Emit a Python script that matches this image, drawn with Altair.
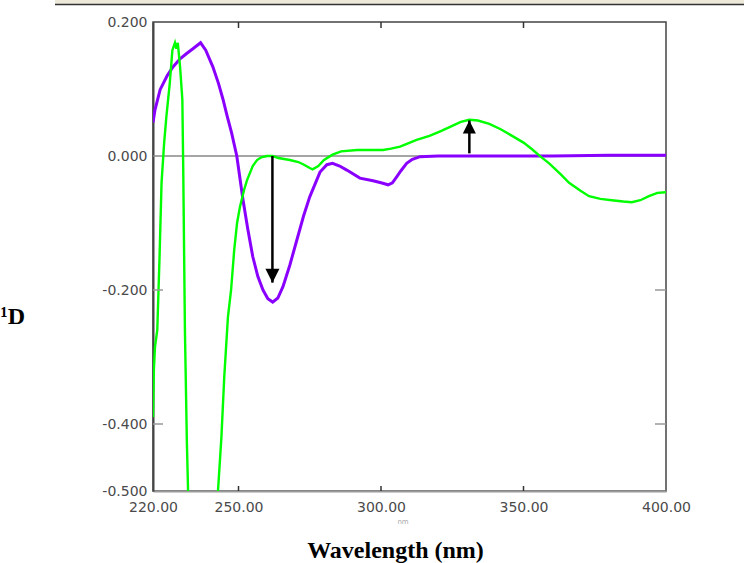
import altair as alt
import pandas as pd

# Spectrum 1 (purple)
wl_purple = [220.0, 220.7, 222.5, 225.0, 227.0, 229.5, 231.8, 234.0, 236.7, 238.5,
             241.0, 243.0, 244.6, 246.0, 247.6, 249.4, 251.6, 253.3, 255.0, 256.8,
             258.6, 260.3, 262.0, 263.8, 265.6, 268.0, 270.5, 272.8, 275.0, 278.6,
             281.0, 283.0, 285.5, 288.0, 292.6, 297.2, 300.0, 302.5, 304.0, 305.5,
             307.0, 309.0, 311.0, 313.7, 320.0, 340.0, 360.0, 380.0, 400.0]
cd_purple = [0.050, 0.069, 0.099, 0.120, 0.133, 0.145, 0.153, 0.160, 0.169, 0.158,
             0.133, 0.108, 0.084, 0.060, 0.034, 0.000, -0.066, -0.110, -0.150, -0.180,
             -0.200, -0.213, -0.218, -0.212, -0.195, -0.163, -0.125, -0.090, -0.061, -0.024,
             -0.013, -0.011, -0.015, -0.021, -0.033, -0.037, -0.040, -0.043, -0.040, -0.031,
             -0.022, -0.011, -0.005, -0.001, 0.000, 0.000, 0.000, 0.001, 0.001]

# Spectrum 2 (green)
wl_green = [220.0, 220.3, 220.7, 221.5, 222.3, 223.0, 223.9, 224.7, 225.9, 226.8,
            227.7, 228.2, 228.7, 229.5, 230.3, 230.6, 231.2, 231.9, 232.6, 234.0,
            238.0, 242.0, 242.8, 244.0, 245.0, 246.3, 247.4, 248.5, 249.5, 250.5,
            252.0, 253.0, 255.0, 256.5, 258.0, 260.0, 262.0, 264.0, 268.0, 271.0,
            273.0, 275.0, 276.0, 278.0, 280.0, 283.0, 286.0, 291.6, 296.0, 300.7,
            303.5, 306.7, 309.5, 312.5, 317.0, 321.0, 325.0, 328.0, 331.0, 334.0,
            338.0, 342.0, 346.0, 350.0, 353.0, 356.0, 359.0, 363.0, 366.0, 370.0,
            373.0, 377.0, 381.0, 385.0, 388.0, 391.0, 394.0, 397.0, 400.0]
cd_green = [-0.390, -0.320, -0.285, -0.260, -0.150, -0.040, 0.019, 0.059, 0.109, 0.158,
            0.169, 0.160, 0.169, 0.133, 0.084, -0.016, -0.260, -0.430, -0.550, -0.750,
            -0.900, -0.600, -0.500, -0.420, -0.330, -0.240, -0.200, -0.140, -0.100, -0.076,
            -0.050, -0.036, -0.015, -0.006, -0.002, 0.000, 0.000, -0.003, -0.006, -0.009,
            -0.013, -0.018, -0.020, -0.015, -0.006, 0.002, 0.007, 0.009, 0.009, 0.009,
            0.011, 0.014, 0.019, 0.024, 0.030, 0.037, 0.045, 0.051, 0.054, 0.053,
            0.048, 0.040, 0.030, 0.020, 0.010, -0.001, -0.011, -0.027, -0.040, -0.052,
            -0.060, -0.064, -0.066, -0.068, -0.069, -0.066, -0.060, -0.055, -0.054]

# Arrows: wavelength, start value, tip value
arrow_wl = [261.9, 331.0]
arrow_from = [0.000, 0.004]
arrow_tip = [-0.189, 0.053]
arrow_head = ["M0,0L-0.5,-1L0.5,-1Z", "M0,0L-0.5,1L0.5,1Z"]
arrow_size = [784, 680]

x_ticks = [220, 250, 300, 350, 400]
x_inner_ticks = [250, 300, 350]
y_ticks = [0.2, 0.0, -0.2, -0.4, -0.5]
y_inner_ticks = [-0.2, -0.4]

purple_df = pd.DataFrame({"wl": wl_purple, "cd": cd_purple})
green_df = pd.DataFrame({"wl": wl_green, "cd": cd_green})
arrow_df = pd.DataFrame({"wl": arrow_wl, "cd": arrow_from, "cd2": arrow_tip,
                         "head": arrow_head, "size": arrow_size})
xt_df = pd.DataFrame({"wl": x_inner_ticks})
yt_df = pd.DataFrame({"cd": y_inner_ticks})
zero_df = pd.DataFrame({"cd": [0.0]})

W, H = 513, 469
xs = alt.Scale(domain=[220, 400], nice=False, zero=False)
ys = alt.Scale(domain=[-0.5, 0.2], nice=False, zero=False)

x_axis = alt.Axis(
    values=x_ticks, format=".2f", ticks=False, grid=False,
    domainColor="#9a9a9a", domainWidth=2, labelFlush=False, labelOverlap=False,
    labelFont="DejaVu Sans", labelFontSize=14, labelColor="#4a4a4a", labelPadding=9,
    title="Wavelength (nm)", titleFont="Liberation Serif", titleFontWeight="bold",
    titleFontSize=24, titleColor="#000000", titleX=242, titleY=66,
    titleAlign="center", titleBaseline="alphabetic",
)
y_axis = alt.Axis(
    values=y_ticks, ticks=False, grid=False,
    labelExpr="datum.value < 0 ? '-' + format(-datum.value, '.3f') : format(datum.value, '.3f')",
    domainColor="#444444", domainWidth=2, labelFont="DejaVu Sans", labelFontSize=14,
    labelColor="#4a4a4a", labelPadding=6,
    title="¹D", titleFont="Liberation Serif", titleFontWeight="bold", titleFontSize=24,
    titleColor="#000000", titleAngle=0, titleX=-153, titleY=301,
    titleAlign="left", titleBaseline="alphabetic",
)


def X(field="wl"):
    return alt.X(f"{field}:Q", scale=xs, axis=x_axis)


def Y(field="cd"):
    return alt.Y(f"{field}:Q", scale=ys, axis=y_axis)


zero_line = alt.Chart(zero_df).mark_rule(color="#888888", strokeWidth=1.5).encode(
    y=Y(), x=alt.value(0), x2=alt.value(W),
)

purple = alt.Chart(purple_df).mark_line(color="#8A00FF", strokeWidth=3, clip=True).encode(
    x=X(), y=Y(),
)

green = alt.Chart(green_df).mark_line(color="#00FF00", strokeWidth=2.4, clip=True).encode(
    x=X(), y=Y(),
)

shafts = alt.Chart(arrow_df).mark_rule(color="#000000", strokeWidth=2.5).encode(
    x=X(), y=Y(), y2="cd2:Q",
)

heads = alt.Chart(arrow_df).mark_point(filled=True, color="#000000", opacity=1, strokeWidth=0).encode(
    x=X(), y=Y("cd2"),
    shape=alt.Shape("head:N", scale=None, legend=None),
    size=alt.Size("size:Q", scale=None, legend=None),
)

# inward tick marks on all four sides
tick_bottom = alt.Chart(xt_df).mark_rule(color="#333333", strokeWidth=1.5).encode(
    x=X(), y=alt.value(H), y2=alt.value(H - 5),
)
tick_top = alt.Chart(xt_df).mark_rule(color="#333333", strokeWidth=1.5).encode(
    x=X(), y=alt.value(0), y2=alt.value(6),
)
tick_left = alt.Chart(yt_df).mark_rule(color="#999999", strokeWidth=1.5).encode(
    y=Y(), x=alt.value(0), x2=alt.value(10),
)
tick_right = alt.Chart(yt_df).mark_rule(color="#999999", strokeWidth=1.5).encode(
    y=Y(), x=alt.value(W - 11), x2=alt.value(W),
)

# small unit caption under the axis and the window strip along the top
unit_text = alt.Chart(zero_df).mark_text(
    text="nm", fontSize=7, color="#aaaaaa", font="DejaVu Sans", baseline="top"
).encode(x=alt.value(250), y=alt.value(496))

strip = alt.Chart(zero_df).mark_rect(color="#ECE9D8").encode(
    x=alt.value(-98), x2=alt.value(591), y=alt.value(-22), y2=alt.value(-18),
)
strip_line = alt.Chart(zero_df).mark_rule(color="#333333", strokeWidth=1.5).encode(
    x=alt.value(-98), x2=alt.value(591), y=alt.value(-17.5),
)

chart = alt.layer(
    zero_line, purple, green, shafts, heads,
    tick_bottom, tick_top, tick_left, tick_right, unit_text, strip, strip_line,
).properties(
    width=W, height=H,
    padding={"left": 153, "top": 22, "right": 78, "bottom": 72},
    autosize=alt.AutoSizeParams(type="none"),
    background="#ffffff",
).configure_view(stroke="#444444", strokeWidth=1.5)

chart.save("out.html", embed_options={"renderer": "svg", "actions": False})
